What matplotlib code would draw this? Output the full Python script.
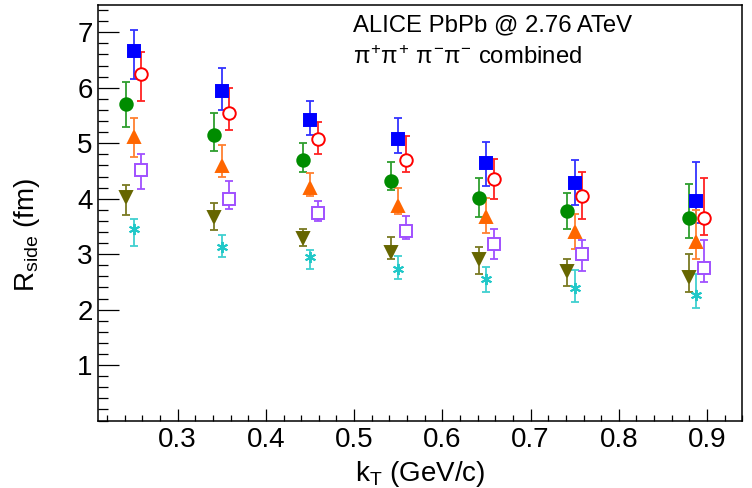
"""R_side versus k_T for pi+pi+ / pi-pi- combined, ALICE PbPb 2.76 ATeV."""

import matplotlib

matplotlib.use("Agg")
import matplotlib.pyplot as plt
from matplotlib.ticker import MultipleLocator

plt.rcParams["font.family"] = ["Liberation Sans", "DejaVu Sans"]
plt.rcParams["mathtext.fontset"] = "custom"
plt.rcParams["mathtext.rm"] = "Liberation Sans"
plt.rcParams["mathtext.it"] = "Liberation Sans"

KT = [0.25, 0.35, 0.45, 0.55, 0.65, 0.75, 0.888]
SHIFT = 0.0085

# marker value, bottom and top of the error bar
blue_val = [6.66, 5.94, 5.42, 5.07, 4.64, 4.29, 3.96]
blue_lo = [6.16, 5.60, 5.15, 4.82, 4.22, 3.89, 3.57]
blue_hi = [7.05, 6.35, 5.76, 5.45, 5.02, 4.70, 4.67]

red_val = [6.25, 5.54, 5.08, 4.70, 4.35, 4.04, 3.66]
red_lo = [5.76, 5.24, 4.81, 4.49, 3.99, 3.64, 3.34]
red_hi = [6.64, 6.00, 5.38, 5.13, 4.72, 4.48, 4.37]

green_val = [5.70, 5.14, 4.70, 4.32, 4.02, 3.78, 3.65]
green_lo = [5.30, 4.86, 4.48, 4.16, 3.67, 3.45, 3.30]
green_hi = [6.10, 5.54, 5.00, 4.67, 4.37, 4.10, 4.26]

orange_val = [5.12, 4.59, 4.20, 3.87, 3.67, 3.40, 3.21]
orange_lo = [4.76, 4.40, 4.05, 3.72, 3.38, 3.10, 2.91]
orange_hi = [5.46, 4.97, 4.46, 4.20, 4.02, 3.72, 3.80]

purple_val = [4.51, 3.99, 3.75, 3.42, 3.18, 3.00, 2.75]
purple_lo = [4.18, 3.81, 3.60, 3.27, 2.91, 2.70, 2.50]
purple_hi = [4.81, 4.32, 3.96, 3.69, 3.45, 3.25, 3.25]

olive_val = [4.03, 3.67, 3.30, 3.04, 2.91, 2.70, 2.59]
olive_lo = [3.70, 3.43, 3.15, 2.91, 2.64, 2.42, 2.31]
olive_hi = [4.24, 3.92, 3.45, 3.31, 3.13, 2.91, 3.01]

cyan_val = [3.45, 3.12, 2.94, 2.73, 2.55, 2.39, 2.26]
cyan_lo = [3.15, 2.94, 2.73, 2.56, 2.32, 2.13, 2.02]
cyan_hi = [3.63, 3.34, 3.07, 2.97, 2.77, 2.71, 2.64]


def draw(ax, dx, val, lo, hi, color, barcolor, marker, size, face=None):
    x = [k + dx for k in KT]
    yerr = [[v - l for v, l in zip(val, lo)], [h - v for v, h in zip(val, hi)]]
    ax.errorbar(
        x, val, yerr=yerr, fmt="none", ecolor=barcolor, elinewidth=1.3,
        capsize=3.2, capthick=1.3, zorder=2,
    )
    ax.plot(
        x, val, linestyle="none", marker=marker, markersize=size,
        color=color, markerfacecolor=face or color, markeredgecolor=color,
        markeredgewidth=1.4, zorder=3,
    )


fig = plt.figure(figsize=(7.52, 4.88), dpi=100)
ax = fig.add_axes([0.1307, 0.1383, 0.8564, 0.8523])

draw(ax, -SHIFT, green_val, green_lo, green_hi, "#008c00", "#2e9e2e", "o", 9)
draw(ax, 0.0, blue_val, blue_lo, blue_hi, "#0000ff", "#3333ff", "s", 8.5)
draw(ax, SHIFT, red_val, red_lo, red_hi, "#ff0000", "#ff2222", "o", 9, "white")
draw(ax, 0.0, orange_val, orange_lo, orange_hi, "#ff6600", "#ff8030", "^", 9)
draw(ax, SHIFT, purple_val, purple_lo, purple_hi, "#a050ff", "#a050ff", "s", 9, "white")
draw(ax, -SHIFT, olive_val, olive_lo, olive_hi, "#666600", "#7a7a22", "v", 9)
draw(ax, 0.0, cyan_val, cyan_lo, cyan_hi, "#20c8c8", "#40d0d0", (6, 2, 0), 8)

ax.set_xlim(0.21, 0.94)
ax.set_ylim(0, 7.5)
ax.set_yticks([1, 2, 3, 4, 5, 6, 7])
ax.xaxis.set_major_locator(MultipleLocator(0.1))
ax.xaxis.set_minor_locator(MultipleLocator(0.02))
ax.yaxis.set_minor_locator(MultipleLocator(0.2))
ax.tick_params(which="both", direction="in", top=False, right=False,
               width=0.9, labelsize=20)
ax.tick_params(axis="y", which="major", length=15, pad=4)
ax.tick_params(axis="y", which="minor", length=7.5)
ax.tick_params(axis="x", which="major", length=8.5, pad=4.5)
ax.tick_params(axis="x", which="minor", length=4.5)
for spine in ax.spines.values():
    spine.set_linewidth(1.1)

ax.set_xlabel(r"k$_{\mathrm{T}}$ (GeV/c)", fontsize=20)
ax.set_ylabel(r"R$_{\mathrm{side}}$ (fm)", fontsize=20)
ax.xaxis.set_label_coords(0.5, -0.093)
ax.yaxis.set_label_coords(-0.087, 0.445)

ax.text(0.396, 0.935, "ALICE PbPb @ 2.76 ATeV", transform=ax.transAxes,
        fontsize=17.2, va="baseline")
ax.text(0.396, 0.856, r"$\pi^{+}\pi^{+}$ $\pi^{-}\pi^{-}$ combined",
        transform=ax.transAxes, fontsize=17.2, va="baseline")

fig.savefig("out.png", dpi=100)
